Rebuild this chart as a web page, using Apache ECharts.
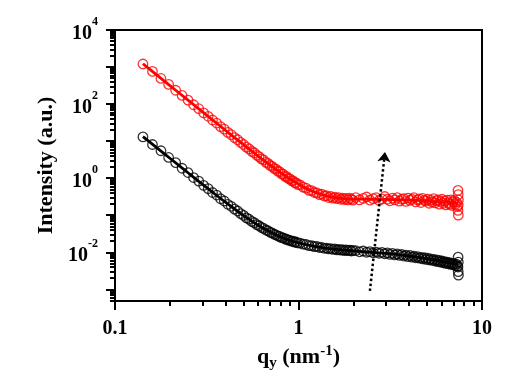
<!DOCTYPE html>
<html><head><meta charset="utf-8">
<script src="https://cdn.jsdelivr.net/npm/echarts@6/dist/echarts.min.js"></script>
<style>html,body{margin:0;padding:0;background:#fff}#c{width:519px;height:386px}</style>
</head><body><div id="c"></div>
<script>
// ---- data ----
const qMain = [0.142,0.160,0.178,0.196,0.214,0.232,0.250,0.268,0.286,0.304,0.322,0.340,0.358,0.376,0.394,0.412,0.430,0.448,0.466,0.484,0.502,0.520,0.538,0.556,0.574,0.592,0.610,0.628,0.646,0.664,0.682,0.700,0.718,0.736,0.754,0.772,0.790,0.808,0.826,0.844,0.862,0.880,0.898,0.916,0.934,0.952,0.970,0.988,
  1.02,1.06,1.10,1.14,1.18,1.22,1.26,1.30,1.34,1.38,1.42,1.46,1.50,1.54,1.58,1.62,1.66,1.70,1.74,1.78,1.82,1.86,1.90,1.94,1.98,
  2.05,2.15,2.25,2.35,2.45,2.55,2.65,2.75,2.85,2.95,3.05,3.15,3.25,3.35,3.45,3.55,3.65,3.75,3.85,3.95,4.05,4.15,4.25,4.35,4.45,4.55,4.65,4.75,4.85,4.95,5.05,5.15,5.25,5.35,5.45,5.55,5.65,5.75,5.85,5.95,6.05,6.15,6.25,6.35,6.45,6.55,6.65,6.75,6.85,6.95,7.05,7.15,7.25,7.35];
const redMain = [1210,762,492,340,236,171,128,96,75,58,46.8,37.2,30.8,24.7,21.1,17.2,14.9,12.4,10.9,9.2,8.1,6.9,6.2,5.3,4.85,4.15,3.82,3.3,3.1,2.68,2.52,2.2,2.09,1.84,1.76,1.54,1.49,1.31,1.28,1.12,1.1,0.98,0.96,0.86,0.85,0.76,0.75,0.68,
  0.66,0.57,0.54,0.47,0.46,0.41,0.40,0.36,0.37,0.33,0.335,0.30,0.32,0.29,0.305,0.28,0.30,0.27,0.29,0.265,0.285,0.26,0.29,0.27,0.255,
  0.30,0.26,0.285,0.31,0.255,0.28,0.30,0.25,0.275,0.32,0.27,0.245,0.29,0.26,0.30,0.24,0.27,0.28,0.235,0.29,0.25,0.27,0.30,0.23,0.26,0.275,0.22,0.285,0.25,0.24,0.27,0.21,0.255,0.23,0.28,0.215,0.245,0.26,0.20,0.235,0.27,0.21,0.24,0.19,0.255,0.22,0.20,0.26,0.185,0.23,0.25,0.195,0.225,0.17];
const blackMain = [13.0,8.1,5.5,3.62,2.63,1.85,1.42,1.04,0.83,0.64,0.52,0.41,0.35,0.278,0.242,0.197,0.174,0.146,0.13,0.11,0.099,0.085,0.078,0.068,0.063,0.0558,0.052,0.0466,0.044,0.0398,0.038,0.0346,0.0332,0.0306,0.0296,0.0274,0.0267,0.0249,0.0244,0.0228,0.0226,0.0212,0.021,0.0198,0.0199,0.0188,0.0189,0.0179,
  0.0176,0.0165,0.0162,0.0151,0.015,0.0141,0.0143,0.0134,0.0136,0.0128,0.013,0.0123,0.0126,0.0119,0.0123,0.0116,0.012,0.0114,0.0118,0.0111,0.0116,0.011,0.0114,0.0108,0.0112,
  0.0110,0.0103,0.0108,0.0100,0.0104,0.0097,0.0101,0.0094,0.0099,0.0091,0.0096,0.0088,0.0093,0.0085,0.0090,0.0082,0.0087,0.0079,0.0084,0.0076,0.0082,0.0074,0.0079,0.0071,0.0076,0.0069,0.0073,0.0066,0.0071,0.0064,0.0069,0.0062,0.0066,0.0060,0.0064,0.0058,0.0062,0.0056,0.0060,0.0054,0.0058,0.0052,0.0056,0.0050,0.0054,0.0049,0.0052,0.0047,0.0051,0.0046,0.0049,0.0044,0.0048,0.0043];
const redEndQ = [7.40,7.42,7.44,7.42,7.40,7.43];
const redEndI = [0.47,0.36,0.26,0.19,0.135,0.10];
const blackEndQ = [7.41,7.43,7.40,7.42,7.44];
const blackEndI = [0.0074,0.0054,0.0040,0.0030,0.0024];
const fitQ = [0.142,0.17,0.2,0.25,0.3,0.35,0.4,0.45,0.5,0.6,0.7,0.8,0.9,1.0,1.1,1.25,1.4,1.6,1.8,2.0,2.5,3,3.5,4,4.5,5,5.5,6,6.5,7,7.4];
const fitRed = [1225,596,311,127.7,61.5,33.4,19.6,12.3,8.15,4.02,2.25,1.40,0.94,0.69,0.53,0.404,0.34,0.296,0.277,0.271,0.27,0.268,0.262,0.256,0.25,0.243,0.235,0.228,0.222,0.215,0.21];
const fitBlack = [13.3,6.5,3.39,1.40,0.682,0.374,0.224,0.145,0.0992,0.0543,0.0351,0.0257,0.0208,0.0178,0.016,0.0142,0.013,0.0119,0.0114,0.0109,0.0100,0.0093,0.0086,0.0079,0.0073,0.0067,0.0062,0.0057,0.0053,0.0049,0.0046];
const arrowQ = [2.45, 2.96];
const arrowI = [0.0009, 5.1];

// ---- axes ----
const xMin = 0.1, xMax = 10;
const yMin = 4.83e-4, yMax = 1e4;
const xMajorTicks = [0.1, 1, 10];
const xTickLabels = ['0.1', '1', '10'];
const xMinorTicks = [0.2,0.3,0.4,0.5,0.6,0.7,0.8,0.9,2,3,4,5,6,7,8,9];
const yMajorTicks = [1e-3,1e-2,1e-1,1,1e1,1e2,1e3,1e4];
const yLabelValues = [1e-2, 1, 1e2, 1e4];
const yMinorTicks = [];
[-4,-3,-2,-1,0,1,2,3].forEach(function(d){ [2,3,4,5,6,7,8,9].forEach(function(m){ const v = m*Math.pow(10,d); if (v>yMin && v<yMax) yMinorTicks.push(v); }); });

const FONT = '"Liberation Serif", "Times New Roman", serif';
const tickStyle = {color:'#000', width:2};

const chart = echarts.init(document.getElementById('c'), null, {renderer:'canvas'});
const toPairs = (xs, ys) => xs.map((x,i)=>[x, ys[i]]);

chart.setOption({
  animation:false,
  backgroundColor:'#fff',
  grid:{left:115,right:37,top:30,bottom:85,show:true,borderColor:'#000',borderWidth:2,backgroundColor:'transparent'},
  xAxis:[{
    type:'log', logBase:10, min:xMin, max:xMax, position:'bottom',
    axisLine:{show:true, lineStyle:{color:'#000', width:2}},
    axisTick:{show:true, inside:false, length:9, lineStyle:tickStyle, customValues:xMajorTicks},
    axisLabel:{show:true, customValues:xMajorTicks, margin:18, color:'#000', fontSize:20, fontWeight:'bold', fontFamily:FONT,
      formatter:function(v){ const i = xMajorTicks.findIndex(t=>Math.abs(Math.log10(t)-Math.log10(v))<1e-6); return i>=0 ? xTickLabels[i] : ''; }},
    splitLine:{show:false}, minorTick:{show:false},
    name:'q{sub|y} (nm{sup|-1})', nameLocation:'middle', nameGap:36,
    nameTextStyle:{color:'#000', fontSize:22, fontWeight:'bold', fontFamily:FONT,
      rich:{sub:{fontSize:15, fontWeight:'bold', fontFamily:FONT, color:'#000', padding:[12,0,0,0]},
            sup:{fontSize:15, fontWeight:'bold', fontFamily:FONT, color:'#000', padding:[0,0,12,0]}}}
  },{
    type:'log', logBase:10, min:xMin, max:xMax, position:'bottom',
    axisLine:{show:false}, axisTick:{show:true, inside:false, length:5, lineStyle:tickStyle, customValues:xMinorTicks},
    axisLabel:{show:false}, splitLine:{show:false}
  }],
  yAxis:[{
    type:'log', logBase:10, min:yMin, max:yMax, position:'left',
    axisLine:{show:true, lineStyle:{color:'#000', width:2}},
    axisTick:{show:true, inside:false, length:9, lineStyle:tickStyle, customValues:yMajorTicks},
    axisLabel:{show:true, customValues:yLabelValues, margin:17, color:'#000', fontFamily:FONT,
      formatter:function(v){ const e = Math.round(Math.log10(v)); return '{b|10}{s|' + (e<0 ? '-' + (-e) : e) + '}'; },
      rich:{b:{fontSize:20, fontWeight:'bold', fontFamily:FONT, color:'#000', verticalAlign:'bottom'},
            s:{fontSize:12, fontWeight:'bold', fontFamily:FONT, color:'#000', verticalAlign:'top', padding:[0,0,16,0]}}},
    splitLine:{show:false}, minorTick:{show:false},
    name:'Intensity (a.u.)', nameLocation:'middle', nameGap:51, nameRotate:90,
    nameTextStyle:{color:'#000', fontSize:22, fontWeight:'bold', fontFamily:FONT}
  },{
    type:'log', logBase:10, min:yMin, max:yMax, position:'left',
    axisLine:{show:false}, axisTick:{show:true, inside:false, length:5, lineStyle:tickStyle, customValues:yMinorTicks},
    axisLabel:{show:false}, splitLine:{show:false}
  }],
  series:[
    {type:'scatter', xAxisIndex:0, yAxisIndex:0, symbol:'circle', symbolSize:9.5,
     itemStyle:{color:'rgba(0,0,0,0)', borderColor:'#ff0000', borderWidth:1.3},
     data: toPairs(qMain, redMain).concat(toPairs(redEndQ, redEndI)), silent:true},
    {type:'scatter', xAxisIndex:0, yAxisIndex:0, symbol:'circle', symbolSize:9.5,
     itemStyle:{color:'rgba(0,0,0,0)', borderColor:'#000', borderWidth:1.3},
     data: toPairs(qMain, blackMain).concat(toPairs(blackEndQ, blackEndI)), silent:true},
    {type:'line', xAxisIndex:0, yAxisIndex:0, showSymbol:false, symbol:'none', smooth:0.3,
     lineStyle:{color:'#ff0000', width:2.8}, data: toPairs(fitQ, fitRed), silent:true},
    {type:'line', xAxisIndex:0, yAxisIndex:0, showSymbol:false, symbol:'none', smooth:0.3,
     lineStyle:{color:'#000', width:2.8}, data: toPairs(fitQ, fitBlack), silent:true,
     markLine:{silent:true, symbol:['none','arrow'], symbolSize:10, label:{show:false},
       lineStyle:{color:'#000', width:2.5, type:'dotted'},
       data:[[{coord:[arrowQ[0], arrowI[0]]},{coord:[arrowQ[1], arrowI[1]]}]]}}
  ]
});
</script>
</body></html>
